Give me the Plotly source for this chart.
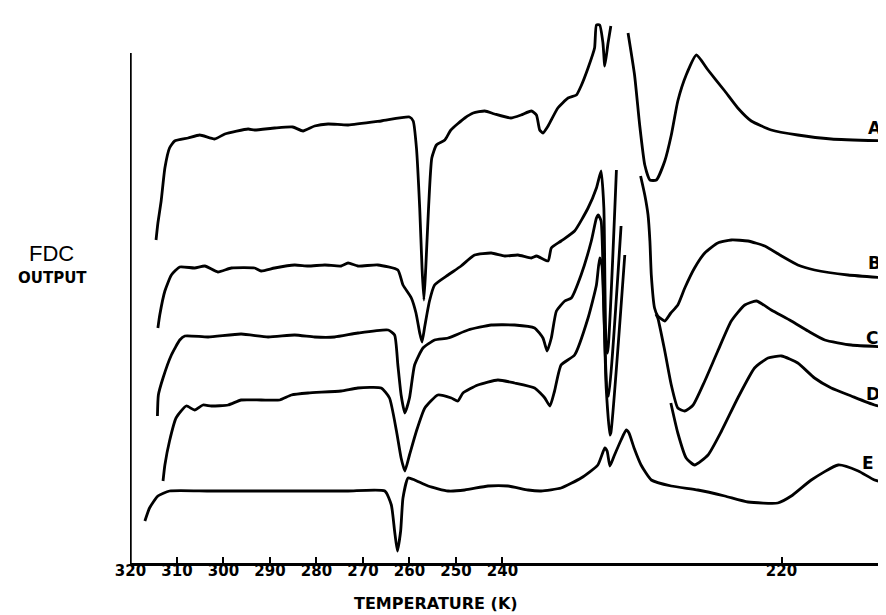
import plotly.graph_objects as go

# Horizontal chart position (scale divisions; 0 = the "320" tick, 10 divisions per labelled 10 K step)
tick_positions = [0, 10, 20, 30, 40, 50, 60, 70, 80, 140]
tick_labels = ["320", "310", "300", "290", "280", "270", "260", "250", "240", "220"]

# FDC output traces (arbitrary output units); None = pen off scale
a_x = [5.5, 5.9, 6.6, 7.4, 8.4, 9.5, 12.4, 14.9, 18.1, 20.3, 25.3, 26.7, 31.0, 34.9, 37.1, 39.6, 42.5, 46.8,
       53.9, 60.0, 60.8, 61.5, 62.2, 62.7, 63.1, 63.5, 64.1, 64.8, 65.8, 67.6, 68.9, 71.9, 73.7, 76.2, 78.3,
       81.8, 84.0, 86.2, 87.3, 88.0, 88.7, 89.8, 91.9, 94.1, 95.9, 96.9, 98.4, 99.8, 100.2, 100.9, 101.6,
       102.0, 102.7, 103.3, None,
       107.0, 108.4, 109.5, 110.6, 111.7, 113.1, 114.9, 116.3, 117.7, 119.5, 121.7, 124.2, 127.8, 130.6,
       133.5, 137.8, 143.5, 150.7, 162.9]
a_y = [32.3, 34.0, 36.2, 39.5, 41.5, 42.2, 42.5, 42.8, 42.4, 42.9, 43.4, 43.3, 43.5, 43.6, 43.2, 43.7, 43.9, 43.8,
       44.2, 44.6, 44.2, 41.5, 35.5, 29.5, 26.3, 29.5, 35.5, 40.5, 41.8, 42.3, 43.3, 44.5, 45.0, 45.2, 44.9,
       44.5, 44.8, 45.2, 44.8, 43.3, 43.0, 43.7, 45.5, 46.5, 46.8, 47.7, 49.5, 51.5, 53.8, 53.8, 52.0,
       49.7, 52.0, 53.7, None,
       53.0, 48.8, 43.8, 39.8, 38.3, 38.3, 40.2, 42.8, 46.2, 48.8, 50.8, 49.3, 47.2, 45.5,
       44.2, 43.3, 42.8, 42.4, 42.2]

b_x = [5.9, 6.3, 7.4, 8.8, 10.6, 13.8, 16.0, 18.8, 21.7, 26.7, 28.1, 31.0, 35.3, 38.2, 41.8, 45.3, 46.8, 48.9,
       53.2, 57.5, 58.6, 60.4, 61.4, 62.2, 62.7, 63.3, 64.3, 65.4, 68.3, 71.1, 74.0, 77.6, 80.5, 83.3, 86.2,
       87.3, 89.8, 90.5, 92.6, 95.5, 98.4, 100.2, 101.2, 101.8, 102.3, 102.6, 104.5, None,
       109.7, 110.6, 111.3, 111.7, 112.0, 112.7, 113.4, 114.9, 116.2, 117.7, 119.2, 121.3, 123.5, 126.3,
       129.2, 132.8, 136.4, 140.0, 143.5, 147.1, 154.3, 162.9]
b_y = [23.5, 24.8, 27.2, 28.8, 29.6, 29.5, 29.7, 29.1, 29.5, 29.5, 29.2, 29.5, 29.8, 29.7, 29.8, 29.7, 30.0, 29.7,
       29.8, 29.3, 27.8, 26.5, 25.0, 23.0, 22.1, 23.7, 26.2, 27.8, 28.8, 29.7, 30.8, 31.0, 30.7, 30.8, 30.5,
       30.7, 30.2, 31.5, 32.2, 33.2, 35.5, 37.5, 39.2, 35.5, 21.5, 21.0, 39.3, None,
       38.7, 36.8, 34.8, 32.2, 28.8, 25.5, 24.7, 24.2, 25.0, 25.8, 27.5, 29.5, 31.0, 32.0,
       32.3, 32.2, 31.7, 30.7, 29.8, 29.3, 28.8, 28.5]

c_x = [5.8, 6.0, 7.0, 8.8, 10.6, 11.7, 16.7, 23.8, 29.6, 35.3, 39.6, 43.9, 48.9, 55.4, 56.8, 57.5, 58.2, 59.0,
       60.0, 61.1, 62.9, 65.4, 68.3, 72.6, 77.6, 82.6, 86.9, 88.7, 89.6, 90.5, 91.6, 93.4, 94.8, 96.9, 99.1,
       100.2, 100.6, 101.2, 101.8, 102.5, 102.8, 105.5, None,
       113.0, 113.4, 114.9, 116.3, 117.7, 119.2, 121.0, 123.5, 126.3, 129.2, 132.1, 134.6, 137.8, 142.1,
       145.7, 149.3, 155.0, 162.9]
c_y = [14.7, 16.8, 18.5, 20.8, 22.3, 22.7, 22.6, 22.9, 22.6, 22.8, 22.6, 22.6, 23.0, 23.3, 22.8, 19.8, 16.8, 15.0,
       16.5, 19.8, 21.5, 22.3, 22.5, 23.3, 23.8, 23.8, 23.5, 22.5, 21.2, 22.5, 25.2, 26.2, 26.5, 28.8, 32.2,
       34.5, 34.8, 34.2, 25.5, 17.0, 16.7, 33.7, None,
       24.9, 24.5, 21.2, 17.8, 15.5, 15.2, 15.8, 18.2, 21.2, 24.2, 25.8, 26.2, 25.3, 24.2,
       23.2, 22.3, 21.8, 21.6]

d_x = [7.0, 7.4, 8.4, 9.8, 12.0, 13.8, 15.6, 17.4, 21.0, 23.8, 28.1, 32.1, 34.6, 38.2, 45.3, 48.9, 53.9, 55.7,
       57.2, 58.2, 59.0, 60.0, 61.5, 63.3, 66.1, 69.0, 70.4, 71.5, 74.7, 79.0, 82.6, 86.9, 89.1, 90.2, 91.2,
       92.6, 95.5, 98.4, 100.2, 100.9, 101.4, 102.3, 103.1, 103.3, 106.3, None,
       116.2, 117.7, 119.5, 121.3, 124.2, 127.1, 130.6, 134.2, 137.1, 140.0, 143.5, 147.1, 150.7, 155.0,
       160.0, 162.9]
d_y = [8.2, 9.8, 12.2, 14.5, 15.7, 15.3, 15.8, 15.7, 15.8, 16.3, 16.3, 16.3, 16.8, 17.0, 17.2, 17.5, 17.5, 16.5,
       13.2, 10.5, 9.2, 10.8, 13.2, 15.5, 16.8, 16.5, 16.2, 17.0, 17.8, 18.3, 18.0, 17.5, 16.5, 15.7, 17.2,
       19.8, 20.8, 24.5, 27.8, 30.5, 29.7, 17.5, 12.8, 13.0, 30.8, None,
       16.0, 13.0, 10.5, 9.8, 10.8, 13.2, 16.5, 19.5, 20.5, 20.7, 20.0, 18.5, 17.5, 16.7,
       15.8, 15.5]

e_x = [3.1, 4.1, 5.9, 8.4, 16.7, 25.3, 38.2, 46.8, 54.7, 56.1, 56.8, 57.4, 58.1, 58.6, 59.7, 61.1, 64.0, 68.3,
       71.9, 76.9, 81.2, 85.5, 88.3, 92.6, 96.9, 100.5, 102.0, 102.5, 103.1, 104.0, 105.5, 106.6, 107.2,
       108.3, 109.8, 112.0, 116.3, 122.0, 127.8, 132.8, 139.2, 142.1, 146.4, 152.2, 156.5, 160.0, 162.9]
e_y = [4.2, 5.5, 6.7, 7.2, 7.2, 7.2, 7.2, 7.2, 7.2, 5.8, 3.2, 1.2, 3.2, 6.5, 8.5, 8.3, 7.7, 7.2,
       7.3, 7.7, 7.7, 7.3, 7.2, 7.5, 8.5, 9.8, 11.5, 11.2, 9.7, 10.7, 12.3, 13.3, 13.0,
       11.5, 9.8, 8.3, 7.7, 7.3, 6.7, 6.1, 6.0, 6.7, 8.3, 9.8, 9.2, 8.3, 8.0]

curve_names = ["A", "B", "C", "D", "E"]
curve_x = [a_x, b_x, c_x, d_x, e_x]
curve_y = [a_y, b_y, c_y, d_y, e_y]
label_x = [160.1, 159.9, 159.5, 159.7, 158.6]
label_y = [43.5, 30.0, 22.5, 16.9, 10.0]

fig = go.Figure()
for name, xs, ys in zip(curve_names, curve_x, curve_y):
    fig.add_trace(go.Scatter(x=xs, y=ys, mode="lines", name=name,
                             line=dict(color="black", width=2.8, shape="spline", smoothing=0.5),
                             connectgaps=False, showlegend=False, hoverinfo="skip"))

for name, lx, ly in zip(curve_names, label_x, label_y):
    fig.add_annotation(x=lx, y=ly, text=name, showarrow=False, xanchor="center", yanchor="middle",
                       font=dict(family="DejaVu Sans", size=17, color="black", weight="bold"))

# vertical (output) axis line
fig.add_shape(type="line", xref="x", yref="y", x0=0, x1=0, y0=0, y1=51,
              line=dict(color="black", width=2.5))

fig.add_annotation(xref="paper", yref="paper", x=-0.104, y=0.5636, text="FDC", showarrow=False,
                   xanchor="center", yanchor="middle",
                   font=dict(family="Liberation Sans", size=22, color="black"))
fig.add_annotation(xref="paper", yref="paper", x=-0.1016, y=0.518, text="OUTPUT", showarrow=False,
                   xanchor="center", yanchor="middle",
                   font=dict(family="DejaVu Sans", size=15, color="black", weight="bold"))
fig.add_annotation(xref="paper", yref="paper", x=0.4037, y=-0.0745, text="TEMPERATURE (K)", showarrow=False,
                   xanchor="center", yanchor="middle",
                   font=dict(family="DejaVu Sans", size=16, color="black", weight="bold"))

fig.update_layout(
    width=886, height=615,
    margin=dict(l=122, r=6, t=5, b=60),
    paper_bgcolor="white", plot_bgcolor="white",
    xaxis=dict(range=[-0.1, 162.9], showgrid=False, zeroline=False,
               showline=True, linecolor="black", linewidth=2.5,
               tickmode="array", tickvals=tick_positions, ticktext=tick_labels,
               ticks="inside", ticklen=6, tickwidth=2, tickcolor="black", ticklabelstandoff=-8,
               tickfont=dict(family="DejaVu Sans", size=15, color="black", weight="bold")),
    yaxis=dict(range=[0, 55], visible=False, showgrid=False, zeroline=False),
)

fig.write_html("out.html")
